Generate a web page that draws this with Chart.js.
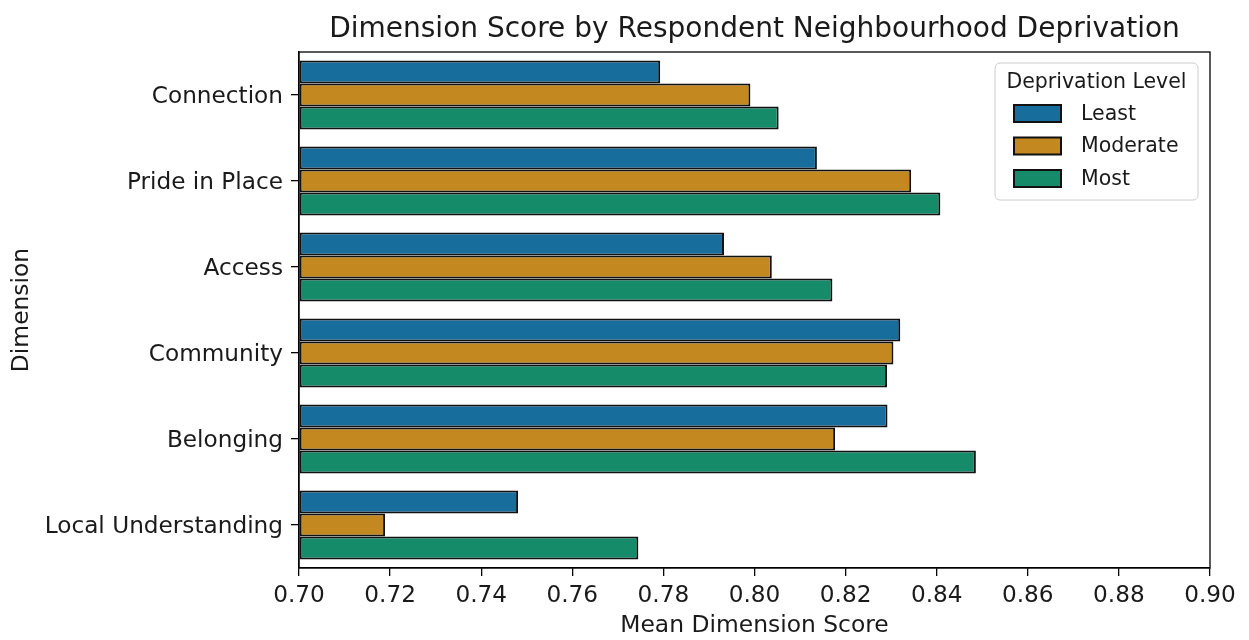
<!DOCTYPE html>
<html>
<head>
<meta charset="utf-8">
<title>Dimension Score by Respondent Neighbourhood Deprivation</title>
<script src="https://cdn.jsdelivr.net/npm/chart.js@4.4.1/dist/chart.umd.min.js"></script>
<style>
  html, body { margin: 0; padding: 0; background: #ffffff; }
  #wrap { width: 1249px; height: 640px; }
</style>
</head>
<body>
<div id="wrap">
  <canvas id="barChart" width="1249" height="640"></canvas>
</div>
<script>
const categories = ['Connection', 'Pride in Place', 'Access', 'Community', 'Belonging', 'Local Understanding'];
const levels = ['Least', 'Moderate', 'Most'];
const leastScores = [0.7793, 0.8137, 0.7933, 0.8320, 0.8292, 0.7481];
const moderateScores = [0.7991, 0.8344, 0.8038, 0.8305, 0.8177, 0.7189];
const mostScores = [0.8053, 0.8408, 0.8171, 0.8291, 0.8486, 0.7745];
const xTicks = [0.70, 0.72, 0.74, 0.76, 0.78, 0.80, 0.82, 0.84, 0.86, 0.88, 0.90];

const colors = ['#176d9c', '#c38820', '#168b6a'];
const font = 'DejaVu Sans';
const textColor = '#1a1a1a';
const chartTitle = 'Dimension Score by Respondent Neighbourhood Deprivation';
const legendTitle = 'Deprivation Level';

// box round the plot, title centred over the plot, legend top right
const framePlugin = {
  id: 'frame',
  afterDraw(chart) {
    const c = chart.ctx;
    const a = chart.chartArea;
    c.save();
    c.strokeStyle = '#000';
    c.lineWidth = 1.3;
    c.strokeRect(a.left, a.top, a.right - a.left, a.bottom - a.top);

    c.fillStyle = textColor;
    c.font = '28px "' + font + '"';
    c.textAlign = 'center';
    c.textBaseline = 'alphabetic';
    c.fillText(chartTitle, (a.left + a.right) / 2, 37);

    // legend
    const lx = 995, ly = 63, lw = 203, lh = 137;
    c.beginPath();
    c.roundRect(lx, ly, lw, lh, 5);
    c.fillStyle = 'rgba(255,255,255,0.8)';
    c.fill();
    c.strokeStyle = '#cccccc';
    c.lineWidth = 1;
    c.stroke();

    c.fillStyle = textColor;
    c.font = '20.5px "' + font + '"';
    c.textBaseline = 'middle';
    c.fillText(legendTitle, lx + lw / 2, 83);

    c.textAlign = 'left';
    chart.data.datasets.forEach((ds, i) => {
      const cy = 113.5 + i * 32.5;
      c.fillStyle = ds.backgroundColor;
      c.fillRect(1014, cy - 8.5, 47, 17);
      c.strokeStyle = '#111';
      c.lineWidth = 2;
      c.strokeRect(1014, cy - 8.5, 47, 17);
      c.fillStyle = textColor;
      c.fillText(ds.label, 1081, cy + 1);
    });
    c.restore();
  }
};

const ctx = document.getElementById('barChart').getContext('2d');
new Chart(ctx, {
  type: 'bar',
  data: {
    labels: categories,
    datasets: [
      { label: levels[0], data: leastScores, backgroundColor: colors[0] },
      { label: levels[1], data: moderateScores, backgroundColor: colors[1] },
      { label: levels[2], data: mostScores, backgroundColor: colors[2] }
    ].map(ds => Object.assign(ds, {
      base: xTicks[0],
      borderColor: '#111',
      borderWidth: 2,
      borderSkipped: false,
      categoryPercentage: 0.8,
      barPercentage: 1.0
    }))
  },
  options: {
    indexAxis: 'y',
    responsive: false,
    animation: false,
    layout: { padding: { left: 0, right: 39, top: 52, bottom: 0 } },
    plugins: {
      legend: { display: false },
      tooltip: { enabled: false },
      title: { display: false }
    },
    scales: {
      x: {
        type: 'linear',
        min: xTicks[0],
        max: xTicks[xTicks.length - 1],
        afterBuildTicks: (scale) => { scale.ticks = xTicks.map(v => ({ value: v })); },
        afterFit: (scale) => { scale.height = 72; },
        ticks: {
          color: textColor,
          padding: 6,
          font: { family: font, size: 23.2 },
          callback: (v) => Number(v).toFixed(2)
        },
        grid: { display: true, drawOnChartArea: false, drawTicks: true, tickLength: 8, color: '#000', lineWidth: 1.3 },
        border: { display: true, color: '#000', width: 1.3 },
        title: {
          display: true,
          text: 'Mean Dimension Score',
          color: textColor,
          font: { family: font, size: 23.4 },
          padding: { top: 0, bottom: 0 }
        }
      },
      y: {
        afterFit: (scale) => { scale.width = 299; },
        ticks: {
          color: textColor,
          padding: 8,
          labelOffset: 1.5,
          font: { family: font, size: 23.2 }
        },
        grid: { display: true, offset: false, drawOnChartArea: false, drawTicks: true, tickLength: 8, color: '#000', lineWidth: 1.3 },
        border: { display: true, color: '#000', width: 1.3 },
        title: {
          display: true,
          text: 'Dimension',
          color: textColor,
          font: { family: font, size: 23.4 },
          padding: { top: 8, bottom: 0 }
        }
      }
    }
  },
  plugins: [framePlugin]
});
</script>
</body>
</html>
